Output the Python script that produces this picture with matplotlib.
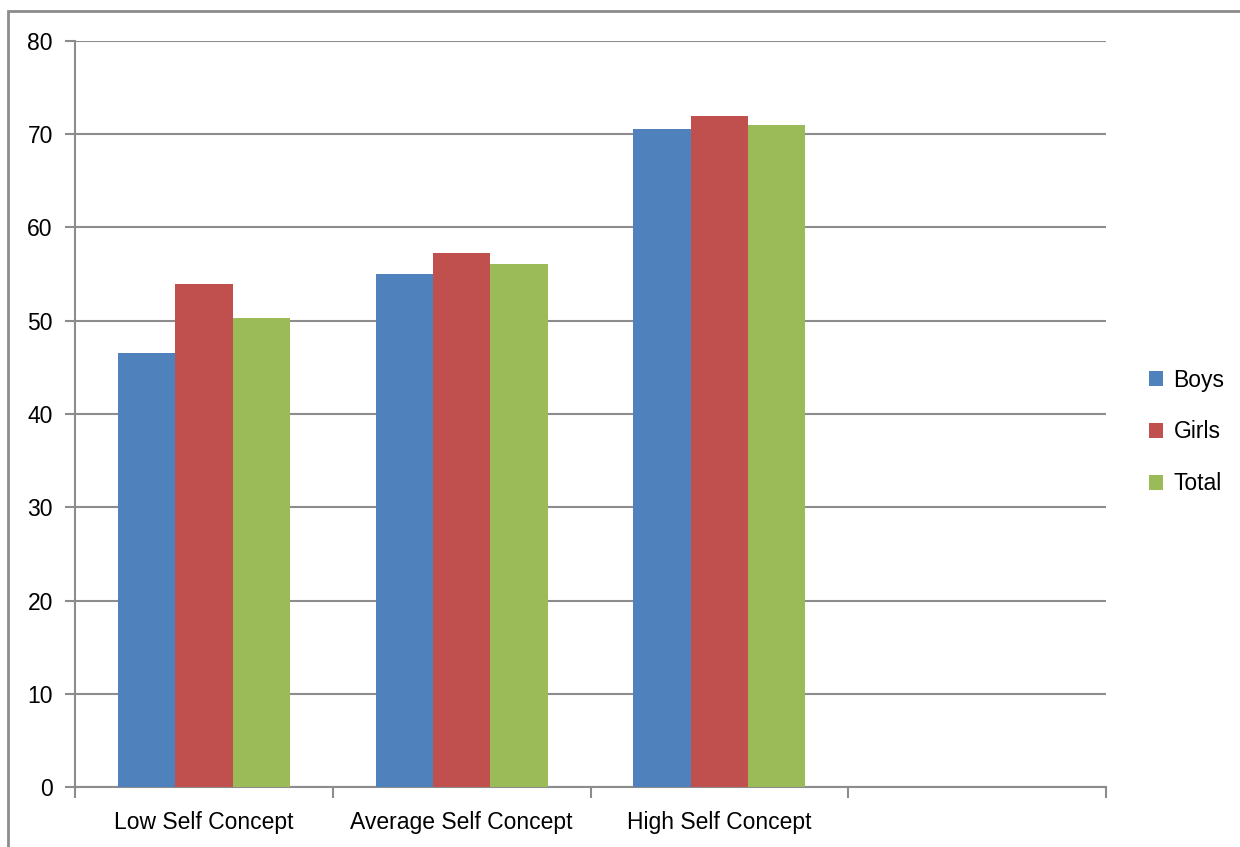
import numpy as np
import matplotlib.pyplot as plt
from matplotlib.patches import Rectangle

categories = ['Low Self Concept', 'Average Self Concept', 'High Self Concept', '']
boys = [46.5, 55.0, 70.6, 0]
girls = [53.9, 57.3, 72.0, 0]
total = [50.3, 56.1, 71.0, 0]
series = ['Boys', 'Girls', 'Total']
colors = ['#4F81BD', '#C0504D', '#9BBB59']

plt.rcParams['font.family'] = ['Liberation Sans', 'DejaVu Sans']

fig = plt.figure(figsize=(12.4, 8.47), dpi=100)
ax = fig.add_axes([75/1240, 1-787/847, (1106-75)/1240, (787-41)/847])

x = np.arange(len(categories))
w = 1/4.5  # excel gap width 150%
for i, (vals, name, c) in enumerate(zip([boys, girls, total], series, colors)):
    ax.bar(x + (i-1)*w, vals, w, color=c, label=name, zorder=3)

grid_c = '#8C8C8C'
ax.set_xlim(-0.5, 3.5)
ax.set_ylim(0, 80)
ax.set_yticks(np.arange(0, 81, 10))
ax.yaxis.grid(True, color=grid_c, lw=1.5, zorder=0)
ax.set_xticks(np.arange(-0.5, 3.6, 1))
ax.set_xticklabels([])
ax.set_xticks(x[:3], categories[:3], minor=True)
ax.tick_params(axis='x', which='minor', length=0, labelsize=16.5, pad=17)
ax.tick_params(axis='x', which='major', length=8, width=1.5, color=grid_c, direction='out')
ax.tick_params(axis='y', length=7, width=1.5, color=grid_c, labelsize=16.5, pad=9)
for s in ['top', 'right']:
    ax.spines[s].set_visible(False)
for s in ['left', 'bottom']:
    ax.spines[s].set_color(grid_c)
    ax.spines[s].set_linewidth(1.5)

leg = ax.legend(loc='center left', bbox_to_anchor=(1149/1240, 1-432/847), bbox_transform=fig.transFigure,
                frameon=False, fontsize=16.5, handlelength=0.62, handleheight=0.62, handletextpad=0.45,
                labelspacing=1.25, borderaxespad=0, borderpad=0)

# outer chart border
fig.patches.append(Rectangle((8/1240, -0.1), 1.5, 1-11/847+0.1, transform=fig.transFigure,
                             fill=False, edgecolor=grid_c, lw=2))

fig.savefig('out.png', dpi=100)
